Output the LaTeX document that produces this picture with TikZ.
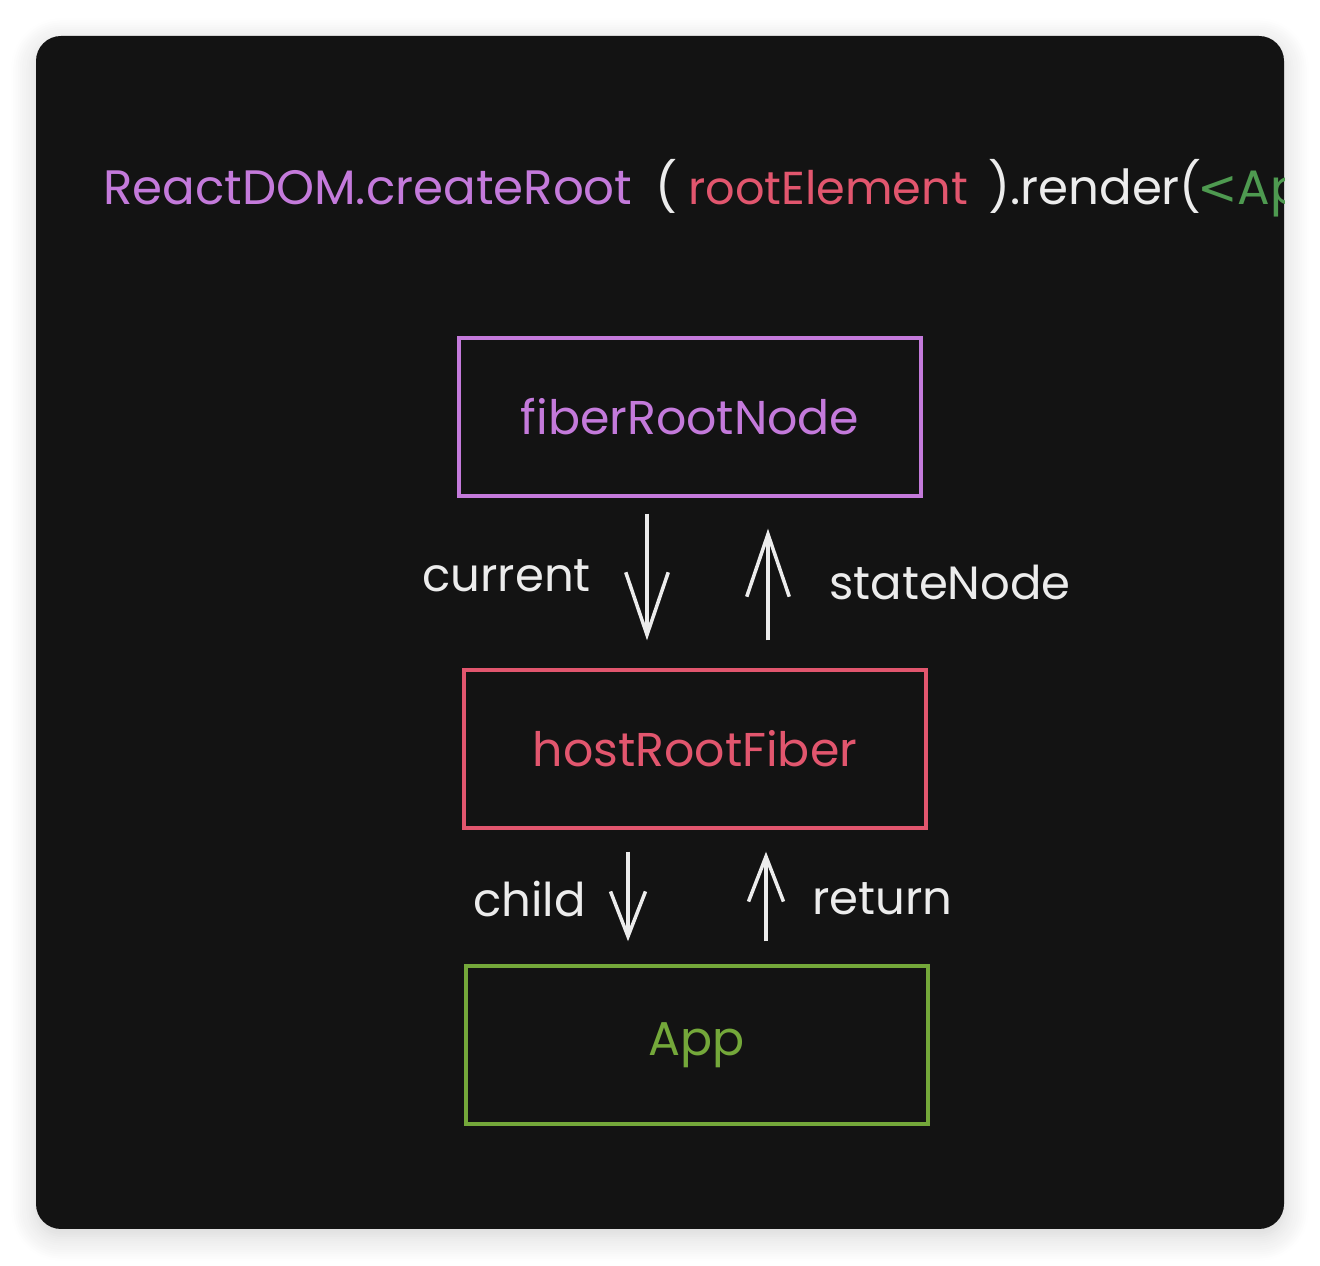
\documentclass[tikz,border=0pt]{standalone}
\usepackage{fontspec}
\setmainfont{Poppins}
\newfontfamily\jsxfont{DejaVu Sans}
\usetikzlibrary{arrows.meta, calc, positioning, shadows.blur}

\definecolor{panelbg}{HTML}{131313}
\definecolor{rpurple}{HTML}{C47ADB}
\definecolor{rred}{HTML}{E2566E}
\definecolor{rgreen}{HTML}{74A83A}
\definecolor{jsxgreen}{HTML}{4E9A50}
\definecolor{chalk}{HTML}{ECECEC}

\begin{document}
\begin{tikzpicture}[x=0.02cm, y=-0.02cm,
  panel/.style={fill=panelbg, rounded corners=0.5cm,
    blur shadow={shadow xshift=0cm, shadow yshift=-0.14cm, shadow blur radius=0.5cm, shadow blur steps=12, shadow opacity=18}},
  codetext/.style={font=\fontsize{27.5}{33}\selectfont, inner sep=0pt, anchor=base west},
  fiberbox/.style={draw, line width=2pt, minimum width=9.25cm, minimum height=3.16cm, font=\fontsize{27}{32}\selectfont},
  fieldname/.style={text=chalk, font=\fontsize{26.5}{30}\selectfont, inner sep=0pt, anchor=base west},
  longptr/.style={draw=chalk, line width=2pt, -{Straight Barb[length=1.25cm, width=0.85cm]}},
  shortptr/.style={draw=chalk, line width=2pt, -{Straight Barb[length=0.9cm, width=0.7cm]}},
]
\useasboundingbox (0,0) rectangle (1320,1266);

% dark screen with soft shadow
\path[panel] (36,36) rectangle (1284,1229);

% code line, cut off at the right edge of the screen
\begin{scope}
  \clip[rounded corners=0.5cm] (36,36) rectangle (1284,1229);
  \node[codetext, text=rpurple] (t_react)  at (103,205)  {ReactDOM.createRoot};
  \node[codetext, text=chalk]   (t_open)   at (655,205)  {(};
  \node[codetext, text=rred, font=\fontsize{26.3}{32}\selectfont] (t_elem) at (688,205) {rootElement};
  \node[codetext, text=chalk]   (t_render) at (988,205)  {).render(};
  \node[codetext, text=jsxgreen] (t_app)   at (1197,205) {{\jsxfont<}Ap};
\end{scope}

% the three fibers
\node[fiberbox, draw=rpurple, text=rpurple] (fiber) at (690,417)  {fiberRootNode};
\node[fiberbox, draw=rred, text=rred]       (host)  at (695,749)  {hostRootFiber};
\node[fiberbox, draw=rgreen, text=rgreen]   (app)   at (697,1045) {App};

% x positions of the pointers
\coordinate (cur_x)   at (647,0);
\coordinate (state_x) at (768,0);
\coordinate (child_x) at (628,0);
\coordinate (ret_x)   at (766,0);

\draw[longptr, shorten <=0.32cm, shorten >=0.56cm] (fiber.south -| cur_x) -- (host.north -| cur_x);
\draw[longptr, shorten <=0.56cm, shorten >=0.62cm] (host.north -| state_x) -- (fiber.south -| state_x);
\draw[shortptr, shorten <=0.44cm, shorten >=0.46cm] (host.south -| child_x) -- (app.north -| child_x);
\draw[shortptr, shorten <=0.46cm, shorten >=0.44cm] (app.north -| ret_x) -- (host.south -| ret_x);

\node[fieldname] (l_current) at (422,592) {current};
\node[fieldname] (l_state)   at (829,600) {stateNode};
\node[fieldname] (l_child)   at (473,917) {child};
\node[fieldname] (l_return)  at (812,915) {return};

\end{tikzpicture}
\end{document}
